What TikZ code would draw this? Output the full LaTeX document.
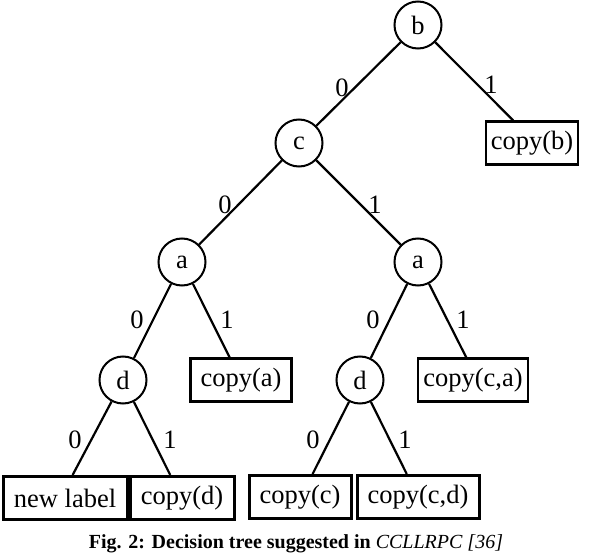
\documentclass[tikz,border=0pt]{standalone}
\usepackage{fontspec}
\setmainfont{Liberation Serif}
\usetikzlibrary{calc}
\begin{document}
\begin{tikzpicture}[x=1pt,y=-1pt,
  vnode/.style={draw,circle,line width=2pt,minimum size=47pt,inner sep=0pt,font=\fontsize{26.5}{28}\selectfont},
  leaf/.style={draw,rectangle,line width=2.2pt,minimum height=43pt,inner xsep=4pt,inner ysep=0pt,font=\fontsize{26.5}{28}\selectfont},
  bleaf/.style={leaf,line width=3pt},
  edge/.style={line width=2.2pt},
  elab/.style={font=\fontsize{26.5}{28}\selectfont,inner sep=0pt}]
\useasboundingbox (0,0) rectangle (590,556);
\node[vnode] (b) at (418,25) {b};
\node[vnode] (c) at (299,143) {c};
\node[vnode] (al) at (182,262) {a};
\node[vnode] (ar) at (418,262) {a};
\node[vnode] (dl) at (123,380) {d};
\node[vnode] (dr) at (360,380) {d};
\node[leaf,minimum width=92pt] (cb) at (532,143) {copy(b)};
\node[leaf,minimum width=101pt] (ca) at (241,380) {copy(a)};
\node[leaf,minimum width=110pt] (cca) at (473,380) {copy(c,a)};
\node[bleaf,minimum width=124pt] (nl) at (65,498) {new label};
\node[bleaf,minimum width=104pt] (cd) at (182,498) {copy(d)};
\node[bleaf,minimum width=102pt] (cc) at (300,497) {copy(c)};
\node[bleaf,minimum width=122pt] (ccd) at (418,497) {copy(c,d)};
\coordinate (tcb) at ($(cb.north west)!0.30!(cb.north east)$);
\coordinate (tca) at ($(ca.north west)!0.39!(ca.north east)$);
\coordinate (tcca) at ($(cca.north west)!0.44!(cca.north east)$);
\coordinate (tnl) at ($(nl.north west)!0.56!(nl.north east)$);
\coordinate (tcd) at ($(cd.north west)!0.39!(cd.north east)$);
\coordinate (tcc) at ($(cc.north west)!0.62!(cc.north east)$);
\coordinate (tccd) at ($(ccd.north west)!0.41!(ccd.north east)$);
\draw[edge] (b) -- (c);
\draw[edge] (b) -- (tcb);
\draw[edge] (c) -- (al);
\draw[edge] (c) -- (ar);
\draw[edge] (al) -- (dl);
\draw[edge] (al) -- (tca);
\draw[edge] (ar) -- (dr);
\draw[edge] (ar) -- (tcca);
\draw[edge] (dl) -- (tnl);
\draw[edge] (dl) -- (tcd);
\draw[edge] (dr) -- (tcc);
\draw[edge] (dr) -- (tccd);
\node[elab] (l1) at (342,88) {0};
\node[elab] (l2) at (491,85) {1};
\node[elab] (l3) at (225,205) {0};
\node[elab] (l4) at (375,205) {1};
\node[elab] (l5) at (137,320) {0};
\node[elab] (l6) at (227,320) {1};
\node[elab] (l7) at (373,320) {0};
\node[elab] (l8) at (463,320) {1};
\node[elab] (l9) at (75,440) {0};
\node[elab] (l10) at (170,440) {1};
\node[elab] (l11) at (313,440) {0};
\node[elab] (l12) at (405,440) {1};
\node[font=\fontsize{20}{22}\selectfont,inner sep=0pt] (cap) at (296,544) {\textbf{Fig. 2: Decision tree suggested in} \textit{CCLLRPC [36]}};
\end{tikzpicture}
\end{document}
